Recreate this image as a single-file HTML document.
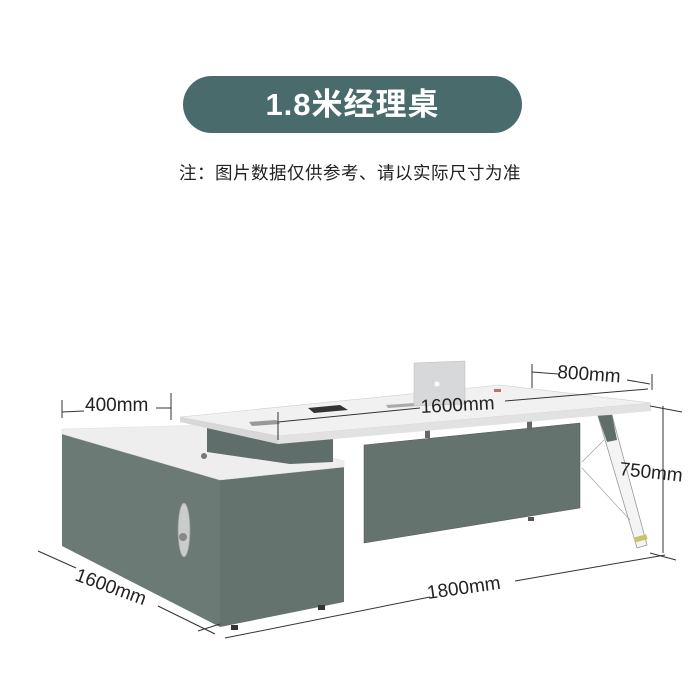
<!DOCTYPE html>
<html><head><meta charset="utf-8"><style>
html,body{margin:0;padding:0;background:#fff}
body{width:700px;height:700px;position:relative;overflow:hidden;font-family:"Liberation Sans","Noto Sans CJK SC",sans-serif}
.pill{position:absolute;left:183px;top:76px;width:339px;height:57px;border-radius:29px;background:#4a6b6b;color:#fff;font-size:31px;font-weight:bold;text-align:center;line-height:57px;letter-spacing:1px}
.sub{position:absolute;left:0;width:700px;top:160px;text-align:center;font-size:17.5px;color:#222;letter-spacing:0.5px}
svg{position:absolute;left:0;top:0}
</style></head><body>
<div class="pill">1.8米经理桌</div>
<div class="sub">注：图片数据仅供参考、请以实际尺寸为准</div>
<svg width="700" height="700" viewBox="0 0 700 700" font-family="Liberation Sans, sans-serif">
<polygon points="62,432 220,480 220,627 62,546" fill="#6c7a76"/>
<polygon points="220,480 344,467 344,602 220,627" fill="#65736f"/>
<polygon points="62,429 209,425 344,461 344,467 220,480 62,434" fill="#eeeeee" stroke="#ddd" stroke-width="0.5"/>
<circle cx="204" cy="456" r="3" fill="#777"/>
<ellipse cx="184" cy="530" rx="6" ry="27" fill="#c9cccb" stroke="#999" stroke-width="0.7"/>
<circle cx="183" cy="537" r="4" fill="#888"/>
<rect x="231" y="625" width="7" height="5" fill="#333"/>
<rect x="318" y="605" width="7" height="5" fill="#333"/>
<polygon points="207,428 333,438 333,462 290,464 207,452" fill="#5f6e6a"/>
<polygon points="364,445 580,423 580,508 364,543" fill="#65736f" stroke="#555" stroke-width="0.5"/>
<rect x="528" y="517" width="6" height="4" fill="#555"/>
<rect x="425" y="428" width="5" height="10" fill="#666"/>
<rect x="527" y="420" width="5" height="10" fill="#666"/>
<polygon points="180,417 500,385 651,403 278,436" fill="#f1f1f1" stroke="#cfcfcf" stroke-width="0.6"/>
<polygon points="278,436 651,403 651,411 278,444" fill="#e2e2e2"/>
<polygon points="180,417 278,436 278,444 180,422" fill="#d8d8d8"/>
<polygon points="308,408 340,405 348,410 314,413" fill="#333"/>
<polygon points="249,422 276,420 280,424 252,426" fill="#999"/>
<polygon points="386,405 415,403 417,406 388,408" fill="#aaa"/>
<polygon points="414,363 465,361 465,404 414,406" fill="#d7d8da" stroke="#bbb" stroke-width="0.5"/>
<circle cx="437" cy="384" r="2.5" fill="#fff"/>
<rect x="494" y="389" width="7" height="3" fill="#c07070"/>
<polygon points="598,416 612,415 647,545 637,548" fill="#f4f4f4" stroke="#999" stroke-width="0.8"/>
<polygon points="598,416 612,415 617,440 607,442" fill="#5f6e6a"/>
<rect x="634" y="536" width="13" height="5" fill="#c9c46a" transform="rotate(-15 640 538)"/>
<line x1="582" y1="462" x2="604" y2="440" stroke="#999" stroke-width="0.6"/>
<line x1="582" y1="468" x2="630" y2="520" stroke="#999" stroke-width="0.6"/>
<g stroke="#333" stroke-width="1" fill="none">
<line x1="62" y1="400" x2="62" y2="418"/><line x1="171" y1="393" x2="171" y2="420"/>
<line x1="62" y1="412" x2="84" y2="411"/><line x1="156" y1="408" x2="171" y2="408"/>
<line x1="532" y1="364" x2="532" y2="388"/><line x1="532" y1="372" x2="558" y2="374"/>
<line x1="627" y1="380" x2="650" y2="384"/><line x1="652" y1="374" x2="652" y2="390"/>
<line x1="278" y1="412" x2="278" y2="440"/><line x1="278" y1="422" x2="420" y2="408"/><line x1="505" y1="401" x2="648" y2="389"/>
<line x1="650" y1="406" x2="682" y2="412"/><line x1="663" y1="406" x2="663" y2="553"/><line x1="650" y1="553" x2="676" y2="560"/>
<line x1="38" y1="551" x2="76" y2="568"/><line x1="158" y1="606" x2="215" y2="634"/>
<line x1="198" y1="631" x2="220" y2="624"/>
<line x1="225" y1="638" x2="430" y2="597"/><line x1="515" y1="581" x2="665" y2="555"/>
</g>
<g fill="#222" font-size="19">
<text x="85" y="411">400mm</text>
<text x="557" y="378" transform="rotate(4 557 378)">800mm</text>
<text x="421" y="413" transform="rotate(-3 421 413)">1600mm</text>
<text x="619" y="475" transform="rotate(6 619 475)">750mm</text>
<text x="74" y="580" transform="rotate(20 74 580)">1600mm</text>
<text x="428" y="599" transform="rotate(-8 428 599)">1800mm</text>
</g>
</svg>
</body></html>
